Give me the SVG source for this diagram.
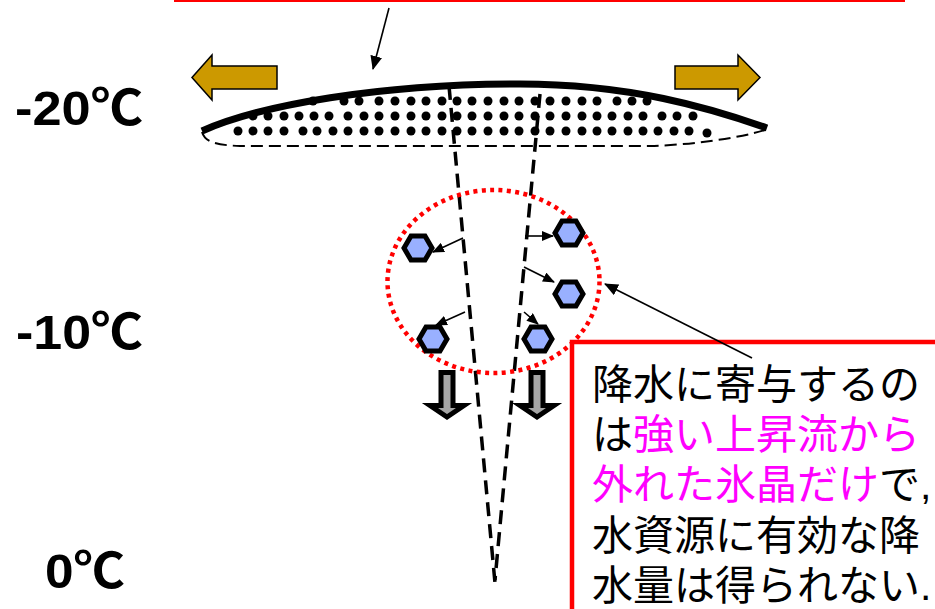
<svg xmlns="http://www.w3.org/2000/svg" width="935" height="609" viewBox="0 0 935 609">
  <style>
    .temp { font-family: "Liberation Sans", "Noto Sans CJK JP", sans-serif; font-weight: bold; font-size: 49px; fill: #000; }
    .note { font-family: "Liberation Sans", "Noto Sans CJK JP", sans-serif; font-size: 41px; fill: #000; }
    .hi { fill: #FF00FF; }
    .dot { fill: #000; }
    .crystal { fill: #99B0FF; stroke: #000; stroke-width: 5; stroke-linejoin: miter; }
    .drift { fill: #CC9900; stroke: #000; stroke-width: 1.5; }
    .fall { fill: #A6A6A6; stroke: #000; stroke-width: 5; stroke-linejoin: miter; }
    .updraft { fill: none; stroke: #000; stroke-width: 3.5; stroke-dasharray: 14 8; }
    .thin { fill: none; stroke: #000; stroke-width: 1.6; }
  </style>
  <defs>
    <polygon id="hex" points="-14,0 -7,-12.1 7,-12.1 14,0 7,12.1 -7,12.1"/>
    <marker id="head" viewBox="0 0 12 10" refX="11" refY="5" markerWidth="12" markerHeight="10" markerUnits="userSpaceOnUse" orient="auto">
      <path d="M0,0 L12,5 L0,10 Z" fill="#000"/>
    </marker>
    <marker id="headBig" viewBox="0 0 14 12" refX="13" refY="6" markerWidth="14" markerHeight="12" markerUnits="userSpaceOnUse" orient="auto">
      <path d="M0,0 L14,6 L0,12 Z" fill="#000"/>
    </marker>
  </defs>

  <rect width="935" height="609" fill="#fff"/>

  <!-- bottom edge of the upper caption frame -->
  <line x1="174" y1="0.5" x2="905" y2="0.5" stroke="#FF0000" stroke-width="3"/>

  <!-- temperature scale -->
  <g id="temperatures">
    <text class="temp" x="15" y="125" textLength="128" lengthAdjust="spacingAndGlyphs">-20℃</text>
    <text class="temp" x="16" y="349" textLength="127" lengthAdjust="spacingAndGlyphs">-10℃</text>
    <text class="temp" x="45" y="588" textLength="80" lengthAdjust="spacingAndGlyphs">0℃</text>
  </g>

  <!-- anvil cloud spreading at the top -->
  <g id="anvil">
    <path d="M202,132 C205,142 215,145 240,146 L650,146 C690,145 740,138 765,130" fill="none" stroke="#000" stroke-width="2" stroke-dasharray="12 6"/>
    <g class="dot">
      <!-- row 1 -->
      <circle cx="313" cy="101" r="4.5"/><circle cx="344" cy="101" r="4.5"/><circle cx="359" cy="101" r="4.5"/>
      <circle cx="379" cy="101" r="4.5"/><circle cx="395" cy="101" r="4.5"/><circle cx="411" cy="101" r="4.5"/>
      <circle cx="426" cy="101" r="4.5"/><circle cx="442" cy="101" r="4.5"/><circle cx="457" cy="101" r="4.5"/>
      <circle cx="472" cy="101" r="4.5"/><circle cx="488" cy="101" r="4.5"/><circle cx="504" cy="101" r="4.5"/>
      <circle cx="519" cy="101" r="4.5"/><circle cx="535" cy="101" r="4.5"/><circle cx="550" cy="101" r="4.5"/>
      <circle cx="566" cy="101" r="4.5"/><circle cx="582" cy="101" r="4.5"/><circle cx="597" cy="101" r="4.5"/>
      <circle cx="617" cy="101" r="4.5"/><circle cx="632" cy="101" r="4.5"/><circle cx="647" cy="101" r="4.5"/>
      <!-- row 2 -->
      <circle cx="253" cy="116" r="4.5"/><circle cx="268" cy="116" r="4.5"/><circle cx="284" cy="116" r="4.5"/>
      <circle cx="299" cy="116" r="4.5"/><circle cx="314" cy="116" r="4.5"/><circle cx="329" cy="116" r="4.5"/>
      <circle cx="348" cy="116" r="4.5"/><circle cx="364" cy="116" r="4.5"/><circle cx="379" cy="116" r="4.5"/>
      <circle cx="395" cy="116" r="4.5"/><circle cx="411" cy="116" r="4.5"/><circle cx="426" cy="116" r="4.5"/>
      <circle cx="442" cy="116" r="4.5"/><circle cx="457" cy="116" r="4.5"/><circle cx="472" cy="116" r="4.5"/>
      <circle cx="488" cy="116" r="4.5"/><circle cx="504" cy="116" r="4.5"/><circle cx="519" cy="116" r="4.5"/>
      <circle cx="535" cy="116" r="4.5"/><circle cx="550" cy="116" r="4.5"/><circle cx="566" cy="116" r="4.5"/>
      <circle cx="582" cy="116" r="4.5"/><circle cx="597" cy="116" r="4.5"/><circle cx="612" cy="116" r="4.5"/>
      <circle cx="628" cy="116" r="4.5"/><circle cx="643" cy="116" r="4.5"/><circle cx="662" cy="116" r="4.5"/>
      <circle cx="677" cy="116" r="4.5"/><circle cx="693" cy="116" r="4.5"/>
      <!-- row 3 -->
      <circle cx="238" cy="131" r="4.5"/><circle cx="253" cy="131" r="4.5"/><circle cx="268" cy="131" r="4.5"/>
      <circle cx="284" cy="131" r="4.5"/><circle cx="303" cy="131" r="4.5"/><circle cx="317" cy="131" r="4.5"/>
      <circle cx="333" cy="131" r="4.5"/><circle cx="348" cy="131" r="4.5"/><circle cx="364" cy="131" r="4.5"/>
      <circle cx="379" cy="131" r="4.5"/><circle cx="395" cy="131" r="4.5"/><circle cx="411" cy="131" r="4.5"/>
      <circle cx="426" cy="131" r="4.5"/><circle cx="442" cy="131" r="4.5"/><circle cx="457" cy="131" r="4.5"/>
      <circle cx="472" cy="131" r="4.5"/><circle cx="488" cy="131" r="4.5"/><circle cx="504" cy="131" r="4.5"/>
      <circle cx="519" cy="131" r="4.5"/><circle cx="535" cy="131" r="4.5"/><circle cx="550" cy="131" r="4.5"/>
      <circle cx="566" cy="131" r="4.5"/><circle cx="582" cy="131" r="4.5"/><circle cx="597" cy="131" r="4.5"/>
      <circle cx="612" cy="131" r="4.5"/><circle cx="628" cy="131" r="4.5"/><circle cx="643" cy="131" r="4.5"/>
      <circle cx="658" cy="131" r="4.5"/><circle cx="674" cy="131" r="4.5"/><circle cx="689" cy="131" r="4.5"/>
      <circle cx="707" cy="133" r="4.5"/>
    </g>
    <path d="M202,131 C260,105 380,84 520,84 C630,84 710,108 767,128" fill="none" stroke="#000" stroke-width="7"/>
  </g>

  <!-- outflow arrows -->
  <g id="outflow-left">
    <polygon class="drift" points="277,66 212,66 212,55 192,77.5 212,100 212,89 277,89"/>
  </g>
  <g id="outflow-right">
    <polygon class="drift" points="675,66 738,66 738,55 760,77.5 738,100 738,89 675,89"/>
  </g>

  <!-- strong updraft core -->
  <g id="updraft">
    <line class="updraft" x1="449" y1="86" x2="495" y2="583"/>
    <line class="updraft" x1="540" y1="94" x2="495" y2="580"/>
  </g>

  <!-- region of ice crystals leaving the updraft -->
  <g id="crystal-zone">
    <ellipse cx="493.5" cy="281.5" rx="106" ry="91.5" fill="none" stroke="#FF0000" stroke-width="4.5" stroke-dasharray="4 4.4"/>
  </g>

  <g id="crystals">
    <use href="#hex" class="crystal" x="418" y="248"/>
    <use href="#hex" class="crystal" x="569" y="233"/>
    <use href="#hex" class="crystal" x="569" y="294"/>
    <use href="#hex" class="crystal" x="433" y="339"/>
    <use href="#hex" class="crystal" x="538" y="339"/>
  </g>

  <!-- falling crystals -->
  <g id="fall-left">
    <polygon class="fall" points="441,372.5 453,372.5 453,405.5 464,405.5 447,417 430,405.5 441,405.5"/>
  </g>
  <g id="fall-right">
    <polygon class="fall" points="531,372.5 543,372.5 543,405.5 554,405.5 537,417 520,405.5 531,405.5"/>
  </g>

  <!-- explanation box -->
  <g id="note">
    <rect x="572" y="342" width="420" height="320" fill="#fff" stroke="#FF0000" stroke-width="4.5"/>
    <text class="note" x="592" y="399">降水に寄与するの</text>
    <text class="note" x="592" y="449">は<tspan class="hi">強い上昇流から</tspan></text>
    <text class="note" x="592" y="499"><tspan class="hi">外れた氷晶だけ</tspan>で,</text>
    <text class="note" x="592" y="550">水資源に有効な降</text>
    <text class="note" x="592" y="600">水量は得られない.</text>
  </g>

  <g id="connectors">
    <line class="thin" x1="389" y1="8" x2="373" y2="69" marker-end="url(#headBig)"/>
    <line class="thin" x1="463" y1="238" x2="433" y2="252" marker-end="url(#head)"/>
    <line class="thin" x1="525" y1="236" x2="553" y2="236" marker-end="url(#head)"/>
    <line class="thin" x1="524" y1="267" x2="554" y2="282" marker-end="url(#head)"/>
    <line class="thin" x1="465" y1="312" x2="436" y2="325" marker-end="url(#head)"/>
    <line class="thin" x1="524" y1="312" x2="538" y2="324" marker-end="url(#head)"/>
    <line class="thin" x1="752" y1="358" x2="605" y2="284" marker-end="url(#headBig)"/>
  </g>
</svg>
